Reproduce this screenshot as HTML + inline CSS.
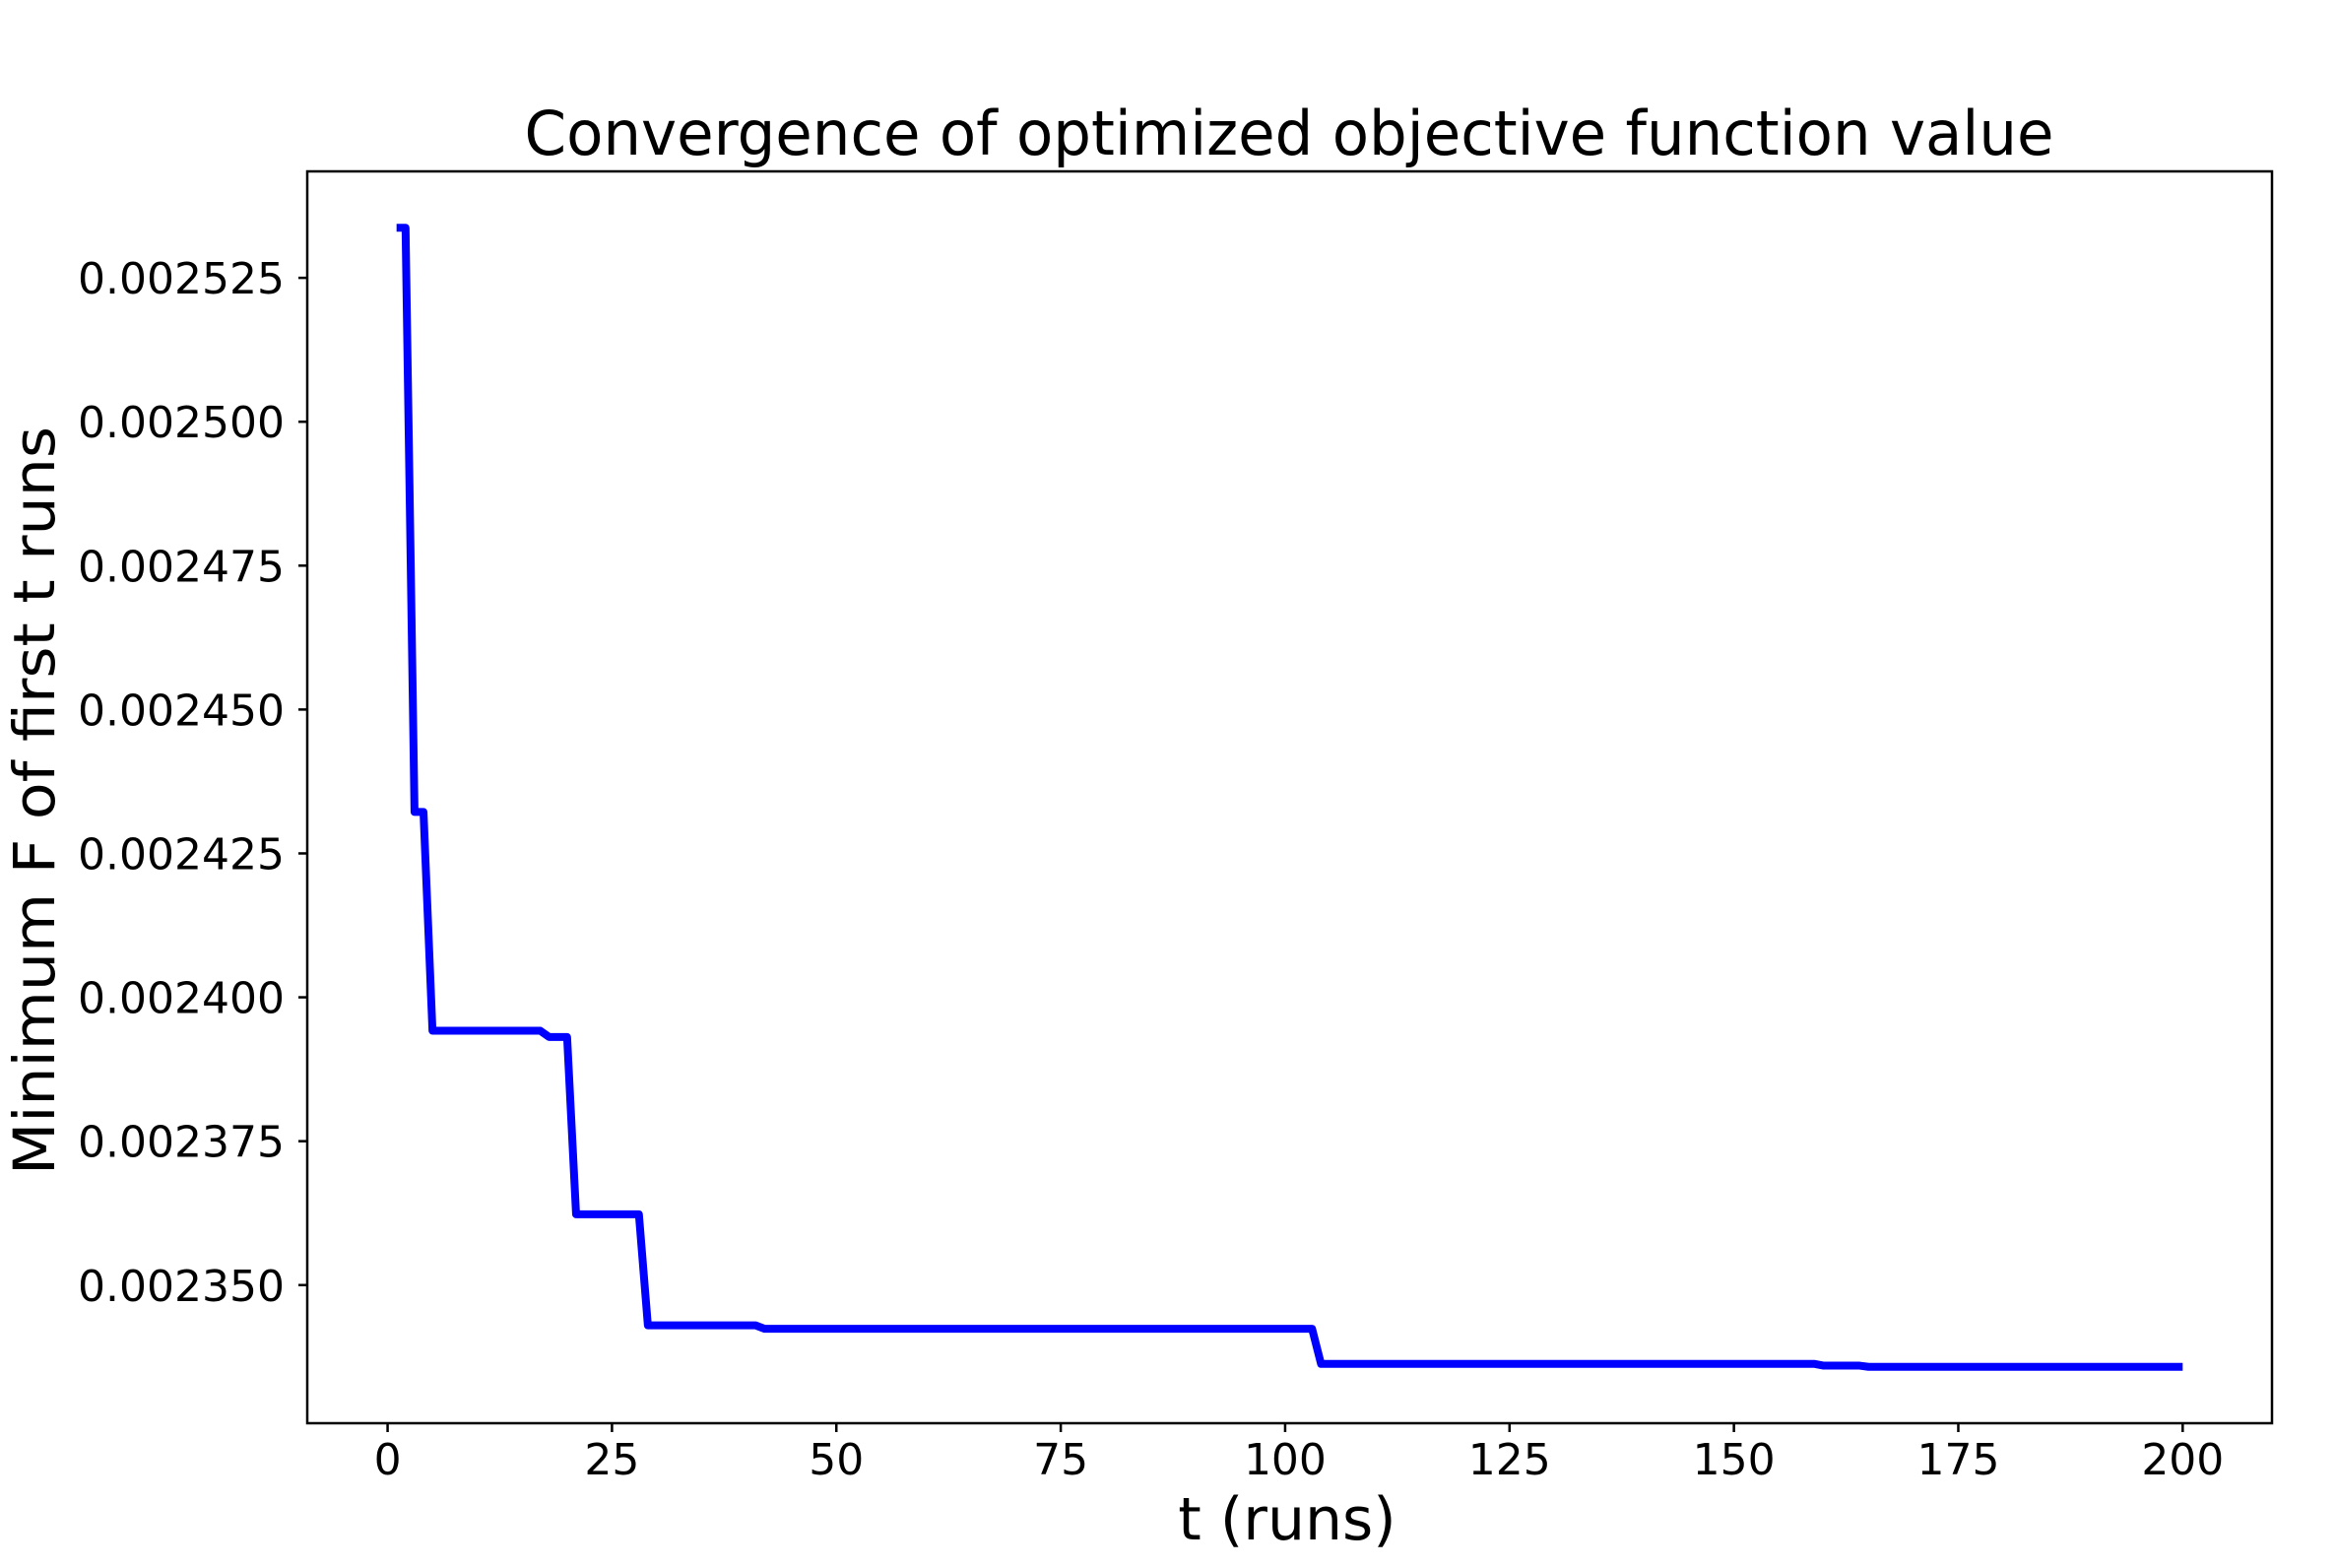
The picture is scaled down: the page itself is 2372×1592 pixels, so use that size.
<!DOCTYPE html>
<html><head><meta charset="utf-8"><style>
html,body{margin:0;padding:0;background:#fff;}
svg{display:block;}
text{font-family:"DejaVu Sans","Liberation Sans",sans-serif;fill:#000;}
</style></head><body>
<svg id="chart" width="2372" height="1592" viewBox="0 0 2372 1592" xmlns="http://www.w3.org/2000/svg">
<rect x="0" y="0" width="2372" height="1592" fill="#fff"/>
<text x="1309" y="157" font-size="62" text-anchor="middle" textLength="1553" lengthAdjust="spacingAndGlyphs">Convergence of optimized objective function value</text>
<text x="1307" y="1563" font-size="60" text-anchor="middle">t (runs)</text>
<text transform="translate(55,813) rotate(-90)" font-size="58" text-anchor="middle" textLength="760" lengthAdjust="spacingAndGlyphs">Minimum F of first t runs</text>
<g id="plot"></g>
</svg>
<script>
const stepRuns = [1, 3, 5, 18, 21, 29, 42, 104, 160, 165];
const stepValues = [0.0025337, 0.0024322, 0.0023942, 0.0023931, 0.0023623, 0.0023430, 0.0023424, 0.0023363, 0.0023360, 0.0023358];
const lastRun = 200;
const xTicks = [0, 25, 50, 75, 100, 125, 150, 175, 200];
const yTicks = [0.002350, 0.002375, 0.002400, 0.002425, 0.002450, 0.002475, 0.002500, 0.002525];
const yTickLabels = ["0.002350", "0.002375", "0.002400", "0.002425", "0.002450", "0.002475", "0.002500", "0.002525"];

const L = 312, R = 2307, T = 174, B = 1445;
const xMin = -8.95, xMax = 209.95;
const yMin = 0.0023260, yMax = 0.0025435;
function sx(v){ return L + (v - xMin) / (xMax - xMin) * (R - L); }
function sy(v){ return B - (v - yMin) / (yMax - yMin) * (B - T); }

const NS = "http://www.w3.org/2000/svg";
const g = document.getElementById("plot");
function mk(tag, attrs){ const e = document.createElementNS(NS, tag); for (const k in attrs) e.setAttribute(k, attrs[k]); g.appendChild(e); return e; }

const pts = [];
let si = 0;
for (let t = stepRuns[0]; t <= lastRun; t++) {
  while (si + 1 < stepRuns.length && stepRuns[si + 1] <= t) si++;
  pts.push(sx(t).toFixed(2) + "," + sy(stepValues[si]).toFixed(2));
}
const line = mk("polyline", {points: pts.join(" "), fill: "none", stroke: "#0000ff", "stroke-width": 8, "stroke-linejoin": "round", "stroke-linecap": "butt"});



const frame = mk("rect", {x: L, y: T, width: R - L, height: B - T, fill: "none", stroke: "#000", "stroke-width": 2.5});



xTicks.forEach(function(v){
  const x = sx(v);
  const tk = mk("line", {x1: x, y1: B, x2: x, y2: B + 9, stroke: "#000", "stroke-width": 2.5});
  
  
  const lb = mk("text", {x: x, y: 1497, "font-size": 44, "text-anchor": "middle"});
  lb.textContent = String(v);
  
  
});
yTicks.forEach(function(v, i){
  const y = sy(v);
  const tk = mk("line", {x1: L - 9, y1: y, x2: L, y2: y, stroke: "#000", "stroke-width": 2.5});
  
  
  const lb = mk("text", {x: 289, y: y + 16, "font-size": 44, "text-anchor": "end"});
  lb.textContent = yTickLabels[i];
  
  
});
</script>
</body></html>
